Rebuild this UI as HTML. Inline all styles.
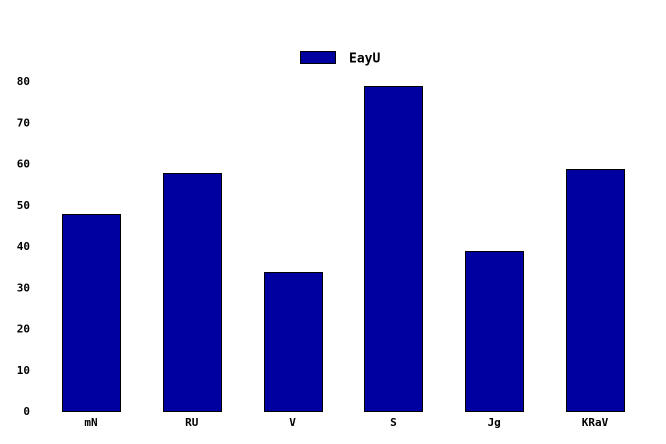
<!DOCTYPE html>
<html><head><meta charset="utf-8"><style>
html,body{margin:0;padding:0;background:#fff;}
svg{display:block;font-family:"DejaVu Sans","Liberation Sans",sans-serif;font-weight:bold;}
.mono{font-family:"DejaVu Sans Mono","Liberation Mono",monospace;}
</style></head><body>
<svg id="chart" width="666" height="444" viewBox="0 0 666 444">
<g id="legend">
<rect x="300.5" y="51.5" width="35" height="12" fill="#0000a0" stroke="#000" stroke-width="1"/>
<text class="mono" x="349" y="62.5" font-size="13" fill="#000">EayU</text>
</g>
<g id="yticks" class="mono"></g>
<g id="bars"></g>
<g id="xticks" class="mono"></g>
</svg>
<script>
const categories = ["mN","RU","V","S","Jg","KRaV"];
const values = [48,58,34,79,39,59];
const yTicks = [0,10,20,30,40,50,60,70,80];
const NS="http://www.w3.org/2000/svg";
const x0=40.6, x1=645.4, yBase=411, yTop=81, yMax=80;
const step=(x1-x0)/categories.length;
const barW=58;
function xCenter(i){return x0+step*(i+0.5);}
function yPos(v){return yBase-(v/yMax)*(yBase-yTop);}
const yg=document.getElementById('yticks');
yTicks.forEach(t=>{
  const tx=document.createElementNS(NS,'text');
  
  
  tx.setAttribute('x',30);tx.setAttribute('y',yPos(t)+4);
  tx.setAttribute('text-anchor','end');tx.setAttribute('font-size','11');
  tx.textContent=t;yg.appendChild(tx);
});
const bg=document.getElementById('bars'), xg=document.getElementById('xticks');
categories.forEach((c,i)=>{
  const r=document.createElementNS(NS,'rect');
  
  
  const cx=xCenter(i), y=Math.round(yPos(values[i]))+1;
  r.setAttribute('x',Math.round(cx-barW/2)+0.5);r.setAttribute('y',y+0.5);
  r.setAttribute('width',barW);r.setAttribute('height',yBase-y);
  r.setAttribute('fill','#0000a0');r.setAttribute('stroke','#000');r.setAttribute('stroke-width','1');
  bg.appendChild(r);
  const tx=document.createElementNS(NS,'text');
  
  
  tx.setAttribute('x',cx);tx.setAttribute('y',426);
  tx.setAttribute('text-anchor','middle');tx.setAttribute('font-size','11');
  tx.textContent=c;xg.appendChild(tx);
});
</script>
</body></html>
